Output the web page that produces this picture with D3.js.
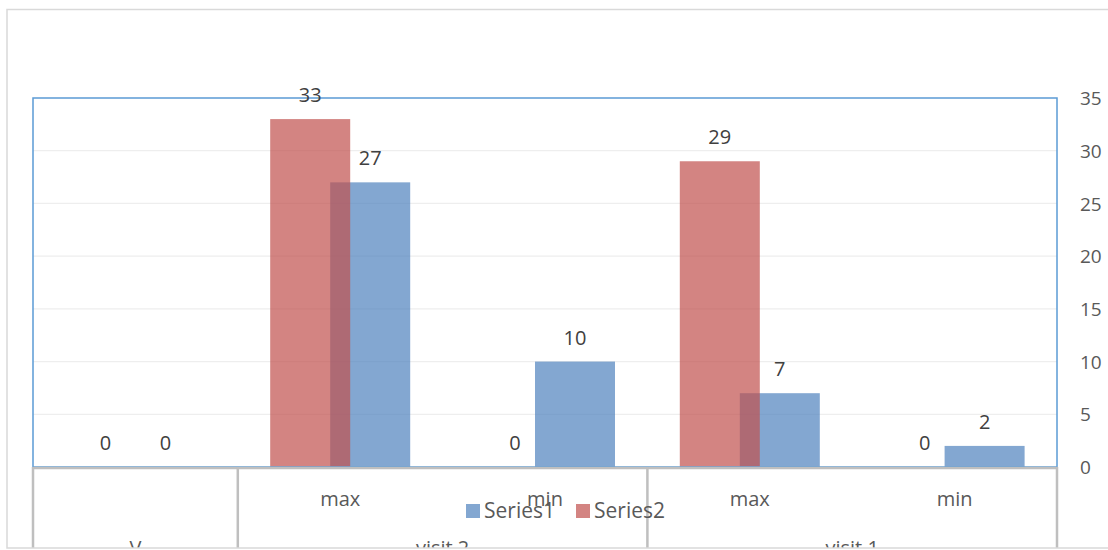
<!DOCTYPE html>
<html>
<head>
<meta charset="utf-8">
<script src="https://cdn.jsdelivr.net/npm/d3@7"></script>
<style>
  html, body { margin: 0; padding: 0; background: #fff; }
  svg { display: block; font-family: "Open Sans", "Noto Sans", sans-serif; }
</style>
</head>
<body>
<svg id="chart" width="1108" height="550"></svg>
<script>
// Category axis: inner level (sub-categories) and outer level (groups)
const subCategories = ["", "max", "min", "max", "min"];
const groups = [
  { name: "V", span: 1 },
  { name: "visit 2", span: 2 },
  { name: "visit 1", span: 2 }
];
const series1 = [0, 27, 10, 7, 2];
const series2 = [0, 33, 0, 29, 0];
const seriesNames = ["Series1", "Series2"];
const yTicks = [0, 5, 10, 15, 20, 25, 30, 35];

const W = 1108, H = 550;
const plot = { left: 33, right: 1057, top: 98, bottom: 467 };
const colors = { s1: "#4F81BD", s2: "#C0504D" };

const svg = d3.select("#chart");

// Chart frame clips everything below it
svg.append("defs").append("clipPath").attr("id", "frameClip")
  .append("rect").attr("x", 7).attr("y", 9).attr("width", W).attr("height", 539);

const g = svg.append("g").attr("clip-path", "url(#frameClip)");

const idx = d3.range(subCategories.length);
const x = d3.scaleBand().domain(idx).range([plot.left, plot.right]).padding(0);
const y = d3.scaleLinear().domain([0, 35]).range([plot.bottom, plot.top]);

const barW = 80, offset = 30;

// Gridlines
g.append("g").selectAll("line").data(yTicks.filter(t => t > 0 && t < 35)).join("line")
  .attr("x1", plot.left).attr("x2", plot.right)
  .attr("y1", d => y(d)).attr("y2", d => y(d))
  .attr("stroke", "#eeeeee").attr("stroke-width", 1.2);

// Right value axis
const yAxis = d3.axisRight(y).tickValues(yTicks).tickSize(0).tickPadding(0);
const ya = g.append("g").attr("transform", `translate(1080,0)`).call(yAxis);
ya.select(".domain").remove();
ya.selectAll("text").attr("x", 0).attr("dy", "0.35em")
  .attr("font-size", 19).attr("fill", "#595959")
  .attr("font-family", "'Open Sans', 'Noto Sans', sans-serif");

// Bars: Series1 right of centre, Series2 left of centre, both semi-opaque
const cx = i => x(i) + x.bandwidth() / 2;
g.append("g").selectAll("rect").data(series1).join("rect")
  .attr("x", (d, i) => cx(i) + offset - barW / 2)
  .attr("width", barW)
  .attr("y", d => y(d))
  .attr("height", d => y(0) - y(d))
  .attr("fill", colors.s1).attr("fill-opacity", 0.7);
g.append("g").selectAll("rect").data(series2).join("rect")
  .attr("x", (d, i) => cx(i) - offset - barW / 2)
  .attr("width", barW)
  .attr("y", d => y(d))
  .attr("height", d => y(0) - y(d))
  .attr("fill", colors.s2).attr("fill-opacity", 0.7);

// Plot area border
g.append("rect")
  .attr("x", plot.left).attr("y", plot.top)
  .attr("width", plot.right - plot.left).attr("height", plot.bottom - plot.top)
  .attr("fill", "none").attr("stroke", "#5B9BD5").attr("stroke-width", 1.5);

// Data labels
const labelStyle = sel => sel.attr("text-anchor", "middle").attr("font-size", 20)
  .attr("fill", "#404040").attr("dy", "0.35em");
g.append("g").selectAll("text").data(series2).join("text")
  .attr("x", (d, i) => cx(i) - offset).attr("y", d => y(d) - 24)
  .text(d => d).call(labelStyle);
g.append("g").selectAll("text").data(series1).join("text")
  .attr("x", (d, i) => cx(i) + offset).attr("y", d => y(d) - 24)
  .text(d => d).call(labelStyle);

// Multi-level category axis
const axisCol = "#bfbfbf";
const catG = g.append("g");
catG.append("line").attr("x1", plot.left).attr("x2", plot.right + 1)
  .attr("y1", plot.bottom + 1).attr("y2", plot.bottom + 1)
  .attr("stroke", axisCol).attr("stroke-width", 2.5);
let start = 0;
const groupBounds = groups.map(gr => {
  const b = { name: gr.name, x0: x(start), x1: x(start + gr.span - 1) + x.bandwidth() };
  start += gr.span;
  return b;
});
const edges = [plot.left].concat(groupBounds.map(b => b.x1));
catG.selectAll("line.sep").data(edges).join("line").attr("class", "sep")
  .attr("x1", d => d).attr("x2", d => d)
  .attr("y1", plot.bottom).attr("y2", H)
  .attr("stroke", axisCol).attr("stroke-width", 2.5);
catG.selectAll("text.sub").data(subCategories).join("text").attr("class", "sub")
  .attr("x", (d, i) => cx(i)).attr("y", 499).attr("dy", "0.35em")
  .attr("text-anchor", "middle").attr("font-size", 20).attr("fill", "#595959")
  .text(d => d);
catG.selectAll("text.grp").data(groupBounds).join("text").attr("class", "grp")
  .attr("x", d => (d.x0 + d.x1) / 2).attr("y", 548).attr("dy", "0.35em")
  .attr("text-anchor", "middle").attr("font-size", 20).attr("fill", "#595959")
  .text(d => d.name);

// Legend
const legend = g.append("g");
const legendItems = [
  { name: seriesNames[0], color: colors.s1, x: 466 },
  { name: seriesNames[1], color: colors.s2, x: 576 }
];
legendItems.forEach(it => {
  legend.append("rect").attr("x", it.x).attr("y", 504).attr("width", 14).attr("height", 14)
    .attr("fill", it.color).attr("fill-opacity", 0.7);
  legend.append("text").attr("x", it.x + 18).attr("y", 511).attr("dy", "0.35em")
    .attr("font-size", 21).attr("fill", "#595959").text(it.name);
});

// Outer chart frame
svg.append("rect").attr("x", 7).attr("y", 9.5).attr("width", W).attr("height", 538.5)
  .attr("fill", "none").attr("stroke", "#d9d9d9").attr("stroke-width", 1.5);
</script>
</body>
</html>
